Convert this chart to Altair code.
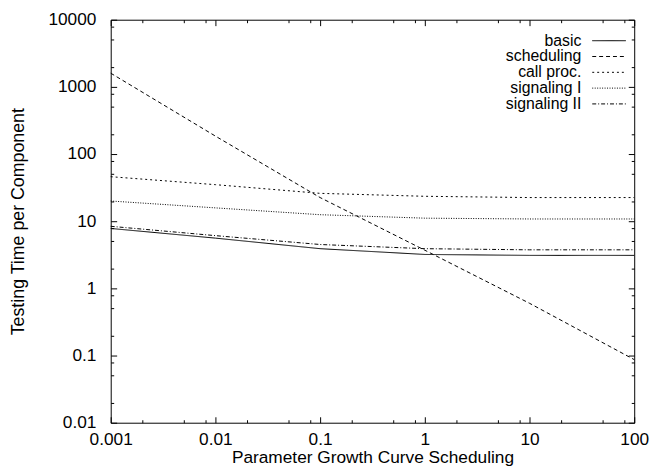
import altair as alt
import pandas as pd

# ---- data ----
x_values = [0.001, 0.01, 0.1, 1, 10, 100]
basic = [7.8, 5.6, 3.9, 3.2, 3.1, 3.1]
scheduling = [1600, 185, 22.5, 3.7, 0.6, 0.087]
call_proc = [46, 35, 26, 23.5, 22.5, 22.5]
signaling_1 = [20, 15.8, 12.5, 11.1, 10.8, 10.8]
signaling_2 = [8.4, 6.1, 4.5, 3.9, 3.75, 3.75]
series_names = ["basic", "scheduling", "call proc.", "signaling I", "signaling II"]

x_major = [0.001, 0.01, 0.1, 1, 10, 100]
y_major = [0.01, 0.1, 1, 10, 100, 1000, 10000]
minor_mult = [2, 5, 8]

x_minor = [round(m * d, 6) for d in x_major[:-1] for m in minor_mult]
y_minor = [round(m * d, 6) for d in y_major[:-1] for m in minor_mult]

rows = []
for name, vals in zip(series_names, [basic, scheduling, call_proc, signaling_1, signaling_2]):
    for xv, yv in zip(x_values, vals):
        rows.append({"x": xv, "y": yv, "series": name})
df = pd.DataFrame(rows)

FONT = "Liberation Sans"
x_scale = alt.Scale(type="log", domain=[0.001, 100], nice=False)
y_scale = alt.Scale(type="log", domain=[0.01, 10000], nice=False)

common = dict(domain=False, grid=False, tickColor="black", tickWidth=1,
              labelFont=FONT, labelColor="black", titleFont=FONT,
              titleColor="black", titleFontWeight="normal")


def tick_axis(orient, values, size):
    return alt.Axis(orient=orient, values=values, offset=-size, tickSize=size,
                    labels=False, title=None, **common)


legend = alt.Legend(
    title=None, orient="none", legendX=496.5, legendY=13.25,
    symbolType="M-3.4,0H3.4", symbolSize=100, symbolStrokeColor="black",
    symbolFillColor="transparent", symbolStrokeWidth=1, labelAlign="right",
    labelOffset={"expr": "-36"}, labelFont=FONT, labelColor="black", padding=0,
    labelFontSize=16, rowPadding=0,
)

lines = alt.Chart(df).mark_line(color="black", strokeWidth=1).encode(
    x=alt.X("x:Q", scale=x_scale, axis=alt.Axis(
        orient="bottom", values=x_major, format="~g", offset=-6, tickSize=6,
        labelFontSize=17.5, labelPadding=8, labelFlush=False,
        title="Parameter Growth Curve Scheduling", titleFontSize=17.5, titlePadding=1,
        **common)),
    y=alt.Y("y:Q", scale=y_scale, axis=alt.Axis(
        orient="left", values=y_major, format="~g", offset=-6, tickSize=6,
        labelFontSize=17.5, labelPadding=15, labelFlush=False,
        title="Testing Time per Component", titleFontSize=18, titlePadding=21,
        **common)),
    strokeDash=alt.StrokeDash("series:N", sort=series_names, scale=alt.Scale(
        domain=series_names,
        range=[[1, 0], [4, 3], [2, 3], [1, 1.5], [4, 2, 1, 2]]),
        legend=legend),
    detail="series:N",
)

ghost = alt.Chart(df).mark_line(opacity=0)

minor_bl = ghost.encode(
    x=alt.X("x:Q", scale=x_scale, axis=tick_axis("bottom", x_minor, 3)),
    y=alt.Y("y:Q", scale=y_scale, axis=tick_axis("left", y_minor, 3)),
)
major_tr = ghost.encode(
    x=alt.X("x:Q", scale=x_scale, axis=tick_axis("top", x_major, 6)),
    y=alt.Y("y:Q", scale=y_scale, axis=tick_axis("right", y_major, 6)),
)
minor_tr = ghost.encode(
    x=alt.X("x:Q", scale=x_scale, axis=tick_axis("top", x_minor, 3)),
    y=alt.Y("y:Q", scale=y_scale, axis=tick_axis("right", y_minor, 3)),
)

chart = alt.layer(lines, minor_bl, major_tr, minor_tr).resolve_axis(
    x="independent", y="independent"
).properties(
    width=530, height=408, autosize="none",
    padding={"left": 104, "top": 9, "right": 18, "bottom": 44},
    background="white",
).configure_view(stroke="black", strokeWidth=1)

chart.save("out.html", embed_options={"renderer": "svg", "actions": False})
